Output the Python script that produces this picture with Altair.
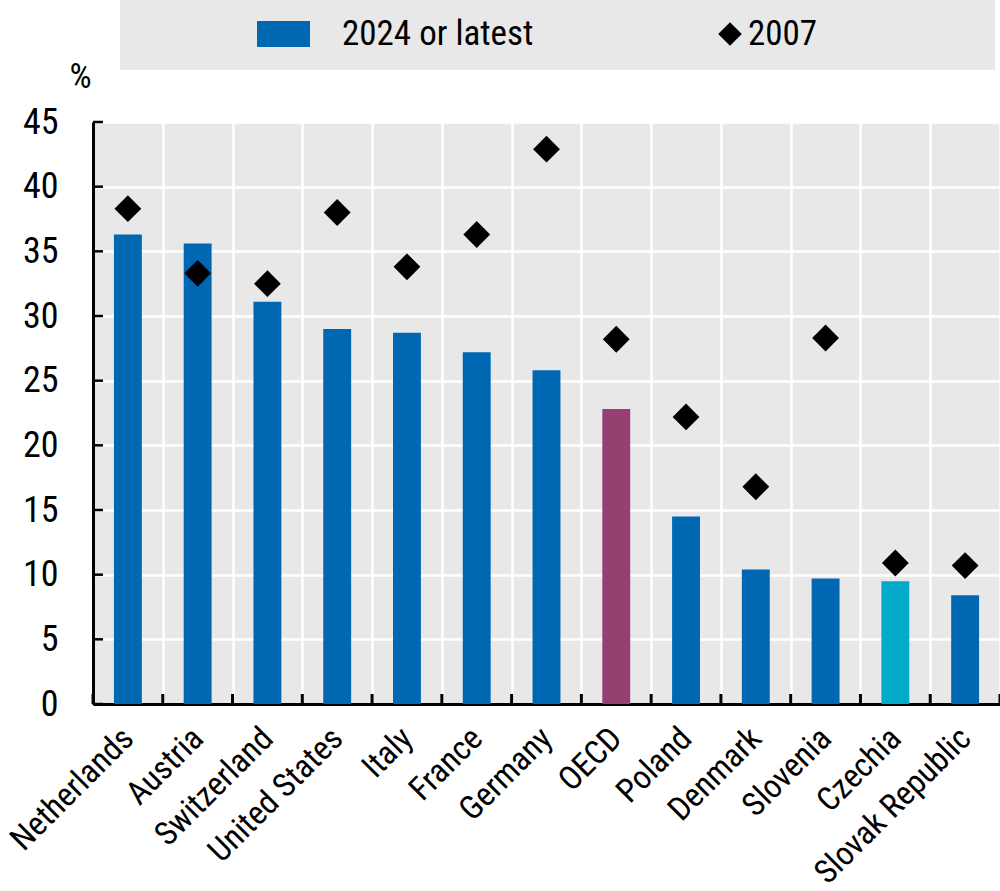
import altair as alt
import pandas as pd

# Share of the population (%), latest year versus 2007
countries = [
    "Netherlands", "Austria", "Switzerland", "United States", "Italy", "France",
    "Germany", "OECD", "Poland", "Denmark", "Slovenia", "Czechia", "Slovak Republic",
]
latest = [36.3, 35.6, 31.1, 29.0, 28.7, 27.2, 25.8, 22.8, 14.5, 10.4, 9.7, 9.5, 8.4]
year_2007 = [38.3, 33.3, 32.5, 38.0, 33.8, 36.3, 42.9, 28.2, 22.2, 16.8, 28.3, 10.9, 10.7]
groups = ["country"] * 7 + ["oecd"] + ["country"] * 3 + ["highlight"] + ["country"]

legend_labels = ["2024 or latest", "2007"]
y_ticks = [0, 5, 10, 15, 20, 25, 30, 35, 40, 45]

FONT = "Roboto Condensed, Liberation Sans, Arial, sans-serif"
FS = 35
BLUE = "#0068b2"
PURPLE = "#954071"
CYAN = "#00aac8"
W, H = 907, 582

df = pd.DataFrame({
    "country": countries,
    "latest": latest,
    "y2007": year_2007,
    "group": groups,
})
ticks_df = pd.DataFrame({"v": y_ticks})
one = pd.DataFrame({"k": [0]})

x_enc = alt.X(
    "country:N",
    sort=countries,
    title=None,
    scale=alt.Scale(paddingInner=0, paddingOuter=0),
    axis=alt.Axis(
        tickBand="extent",
        ticks=False,
        grid=True,
        gridColor="white",
        gridWidth=2.5,
        domainColor="black",
        domainWidth=3,
        labelAngle=-45,
        labelAlign="right",
        labelBaseline="middle",
        labelPadding=29,
        labelLimit=0,
        labelFont=FONT,
        labelFontSize=33,
        labelColor="black",
    ),
)
y_scale = alt.Scale(domain=[0, 45], nice=False)
y_enc = alt.Y(
    "latest:Q",
    scale=y_scale,
    axis=alt.Axis(
        values=y_ticks,
        ticks=False,
        grid=True,
        gridColor="white",
        gridWidth=2.5,
        domainColor="black",
        domainWidth=3,
        labelPadding=35,
        labelFont=FONT,
        labelFontSize=FS + 1,
        labelColor="black",
        title="%",
        titleAngle=0,
        titleAlign="center",
        titleBaseline="middle",
        titleX=-13,
        titleY=-46,
        titleFont=FONT,
        titleFontSize=FS,
        titleFontWeight="normal",
        titleColor="black",
    ),
)

bars = alt.Chart(df).mark_bar(width=alt.RelativeBandSize(0.4)).encode(
    x=x_enc,
    y=y_enc,
    color=alt.Color(
        "group:N",
        scale=alt.Scale(domain=["country", "oecd", "highlight"], range=[BLUE, PURPLE, CYAN]),
        legend=None,
    ),
)

diamonds = alt.Chart(df).mark_point(
    shape="diamond", filled=True, size=720, color="black", opacity=1
).encode(
    x=alt.X("country:N", sort=countries),
    y=alt.Y("y2007:Q", scale=y_scale),
)

# inward ticks on the value axis
y_tick_marks = alt.Chart(ticks_df).mark_rule(color="black", strokeWidth=2.5).encode(
    y=alt.Y("v:Q", scale=y_scale),
    x=alt.value(0),
    x2=alt.value(10),
)

# inward ticks at the category band boundaries
x_tick_marks = alt.Chart(df).mark_rule(color="black", strokeWidth=3).encode(
    x=alt.X("country:N", sort=countries, bandPosition=0),
    y=alt.value(H - 10),
    y2=alt.value(H),
)
x_tick_last = alt.Chart(df).transform_filter(
    alt.datum.country == countries[-1]
).mark_rule(color="black", strokeWidth=3).encode(
    x=alt.X("country:N", sort=countries, bandPosition=1),
    y=alt.value(H - 10),
    y2=alt.value(H),
)

# legend strip above the plot
legend_box = alt.Chart(one).mark_rect(color="#e8e8e8").encode(
    x=alt.value(27), x2=alt.value(902), y=alt.value(-122), y2=alt.value(-52)
)
legend_swatch = alt.Chart(one).mark_rect(color=BLUE).encode(
    x=alt.value(164), x2=alt.value(217), y=alt.value(-101), y2=alt.value(-75)
)
legend_text1 = alt.Chart(one).mark_text(
    align="left", baseline="middle", font=FONT, fontSize=FS, color="black"
).encode(x=alt.value(249), y=alt.value(-88), text=alt.value(legend_labels[0]))
legend_diamond = alt.Chart(one).mark_point(
    shape="diamond", filled=True, size=560, color="black", opacity=1
).encode(x=alt.value(637), y=alt.value(-88))
legend_text2 = alt.Chart(one).mark_text(
    align="left", baseline="middle", font=FONT, fontSize=FS, color="black"
).encode(x=alt.value(655), y=alt.value(-88), text=alt.value(legend_labels[1]))

chart = alt.layer(
    legend_box, legend_swatch, legend_text1, legend_diamond, legend_text2,
    bars, diamonds, y_tick_marks, x_tick_marks, x_tick_last,
).properties(
    width=W,
    height=H,
    autosize=alt.AutoSizeParams(type="none"),
    padding={"left": 93, "top": 122, "right": 0, "bottom": 187},
    background="white",
).configure_view(
    fill="#e8e8e8", stroke=None, strokeWidth=0
)

chart.save("out.html", embed_options={"renderer": "svg", "actions": False})
